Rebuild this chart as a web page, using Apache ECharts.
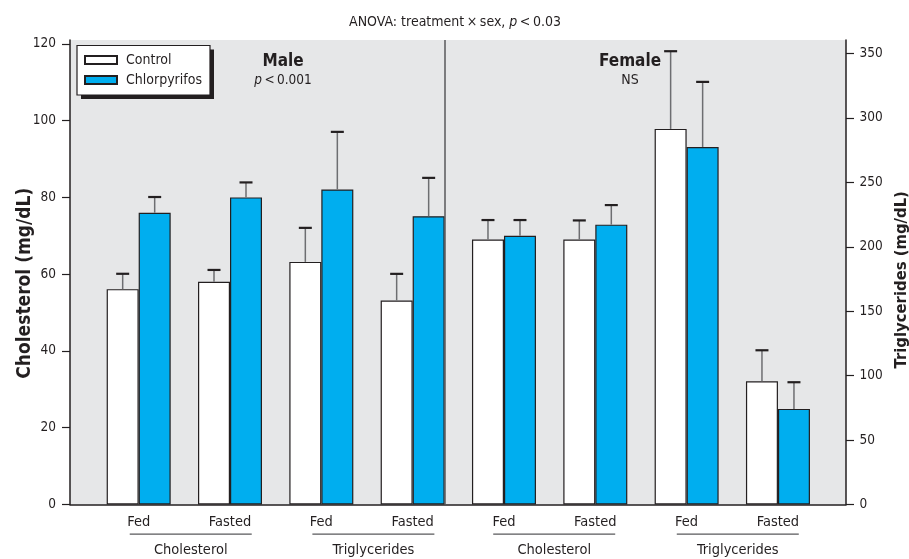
<!DOCTYPE html>
<html><head><meta charset="utf-8">
<script src="https://cdn.jsdelivr.net/npm/echarts@6/dist/echarts.min.js"></script>
<style>html,body{margin:0;padding:0;background:#fff}#c{width:909px;height:559px}</style>
</head><body><div id="c"></div>
<script>
// ---------- data ----------
const positions = [1, 2, 3, 4, 5, 6, 7, 8];
const conditionLabels = ['Fed', 'Fasted', 'Fed', 'Fasted', 'Fed', 'Fasted', 'Fed', 'Fasted'];
const measures = ['Cholesterol', 'Cholesterol', 'Triglycerides', 'Triglycerides',
                  'Cholesterol', 'Cholesterol', 'Triglycerides', 'Triglycerides'];
const sexes = ['Male', 'Male', 'Male', 'Male', 'Female', 'Female', 'Female', 'Female'];
const controlMean = [56.1, 58.0, 188.3, 158.3, 69.0, 69.0, 291.5, 95.7];
const controlSE   = [4.0, 3.1, 26.4, 20.7, 5.1, 5.0, 60.3, 24.0];
const chlorMean   = [76.0, 80.0, 244.5, 223.7, 70.0, 72.9, 277.5, 74.2];
const chlorSE     = [4.1, 3.9, 44.7, 29.8, 4.1, 5.1, 50.5, 20.7];
const cholTicks = [0, 20, 40, 60, 80, 100, 120];
const triTicks = [0, 50, 100, 150, 200, 250, 300, 350];
const groupLabels = ['Cholesterol', 'Triglycerides', 'Cholesterol', 'Triglycerides'];
const groupPositions = [1.57, 3.57, 5.55, 7.56];
const treatments = ['Control', 'Chlorpyrifos'];

// ---------- layout / style ----------
const FONT = "'DejaVu Sans Condensed', 'Liberation Sans Narrow', sans-serif";
const INK = '#231f20';
const X_MIN = 0.248, X_MAX = 8.745;
const Y_LEFT_MAX = 121, Y_RIGHT_MAX = 360.5;
const DIVIDER_X = 4.53;
const BAR_W = 32;
const THIN = '\u2009';

const chart = echarts.init(document.getElementById('c'), null, {renderer: 'canvas'});

function barData(mean, m) {
  return positions.map((p, i) => measures[i] === m ? [p, mean[i]] : null).filter(Boolean);
}
function errData(mean, se, m) {
  return positions.map((p, i) => measures[i] === m ? [p, mean[i], mean[i] + se[i]] : null).filter(Boolean);
}

const fills = {Control: '#ffffff', Chlorpyrifos: '#00aeef'};
const means = {Control: controlMean, Chlorpyrifos: chlorMean};
const ses = {Control: controlSE, Chlorpyrifos: chlorSE};
const offsets = {Control: -BAR_W / 2, Chlorpyrifos: BAR_W / 2};

const series = [];
[['Cholesterol', 0], ['Triglycerides', 1]].forEach(([m, ai]) => {
  treatments.forEach(t => {
    const s = {
      type: 'bar', name: t, xAxisIndex: ai, yAxisIndex: ai,
      barWidth: BAR_W, barGap: '0%',
      itemStyle: {color: fills[t], borderColor: INK, borderWidth: 1.2},
      emphasis: {disabled: true}, z: 3,
      data: barData(means[t], m)
    };
    if (m === 'Cholesterol' && t === 'Control') {
      s.markLine = {
        symbol: 'none', silent: true, animation: false,
        label: {show: false},
        lineStyle: {color: '#58595b', width: 1.5, type: 'solid'},
        data: [{xAxis: DIVIDER_X}]
      };
    }
    series.push(s);
  });
  treatments.forEach(t => {
    const off = offsets[t];
    series.push({
      type: 'custom', name: t + ' SE ' + m, xAxisIndex: ai, yAxisIndex: ai, z: 4,
      encode: {x: 0, y: [1, 2]},
      data: errData(means[t], ses[t], m),
      renderItem: function (params, api) {
        const p0 = api.coord([api.value(0), api.value(1)]);
        const p1 = api.coord([api.value(0), api.value(2)]);
        const x = p0[0] + off;
        return {type: 'group', children: [
          {type: 'line', shape: {x1: x, y1: p0[1], x2: x, y2: p1[1]},
           style: {stroke: '#6d6e71', lineWidth: 1.5}},
          {type: 'line', shape: {x1: x - 6.5, y1: p1[1], x2: x + 6.5, y2: p1[1]},
           style: {stroke: INK, lineWidth: 2.2}}
        ]};
      }
    });
  });
});

const baseX = {type: 'value', min: X_MIN, max: X_MAX, splitLine: {show: false}};
const option = {
  animation: false,
  textStyle: {fontFamily: FONT, color: INK},
  grid: {left: 70, right: 63, top: 40, bottom: 54.5, show: true,
         outerBoundsMode: 'none', containLabel: false,
         backgroundColor: '#e6e7e8', borderWidth: 0},
  legend: {
    data: treatments, orient: 'vertical', left: 84, top: 52, padding: 0,
    itemWidth: 32, itemHeight: 8, itemGap: 4, icon: 'rect', z: 12,
    selectedMode: false,
    textStyle: {fontFamily: FONT, fontSize: 14, color: INK, lineHeight: 16, padding: [0, 0, 0, 4]}
  },
  xAxis: [
    Object.assign({}, baseX, {
      position: 'bottom',
      axisLine: {show: true, onZero: false, lineStyle: {color: INK, width: 1.5}},
      axisTick: {show: false},
      axisLabel: {customValues: positions, margin: 10, fontSize: 14.5, color: INK, fontFamily: FONT,
                  formatter: v => conditionLabels[positions.indexOf(v)]}
    }),
    Object.assign({}, baseX, {show: false}),
    Object.assign({}, baseX, {
      position: 'bottom',
      axisLine: {show: false}, axisTick: {show: false},
      axisLabel: {customValues: groupPositions, margin: 29, color: INK, fontFamily: FONT,
        formatter: v => '{u| }\n{t|' + groupLabels[groupPositions.indexOf(v)] + '}',
        rich: {
          u: {width: 122, height: 1.2, lineHeight: 1.2, fontSize: 1, backgroundColor: '#58595b'},
          t: {fontSize: 14.5, lineHeight: 18, padding: [14, 0, 0, 0], fontFamily: FONT, color: INK}
        }}
    })
  ],
  yAxis: [
    {type: 'value', min: 0, max: Y_LEFT_MAX, position: 'left',
     splitLine: {show: false},
     axisLine: {show: true, lineStyle: {color: INK, width: 1.5}},
     axisTick: {show: true, length: 8, customValues: cholTicks, lineStyle: {color: INK, width: 1.2}},
     axisLabel: {customValues: cholTicks, margin: 14, fontSize: 13.5, color: INK, fontFamily: FONT},
     name: 'Cholesterol (mg/dL)', nameLocation: 'middle', nameGap: 35, nameMoveOverlap: false,
     nameTextStyle: {fontFamily: FONT, fontSize: 19, fontWeight: 'bold', color: INK, padding: [0, 22, 0, 0]}},
    {type: 'value', min: 0, max: Y_RIGHT_MAX, position: 'right',
     splitLine: {show: false},
     axisLine: {show: true, lineStyle: {color: INK, width: 1.5}},
     axisTick: {show: true, length: 8, customValues: triTicks, lineStyle: {color: INK, width: 1.2}},
     axisLabel: {customValues: triTicks, margin: 13.5, fontSize: 13.5, color: INK, fontFamily: FONT},
     name: 'Triglycerides (mg/dL)', nameLocation: 'middle', nameGap: 38,
     nameTextStyle: {fontFamily: FONT, fontSize: 16.5, fontWeight: 'bold', color: INK, padding: [0, 15, 0, 0]}}
  ],
  graphic: [
    {type: 'rect', z: 8, silent: true, shape: {x: 81, y: 49.5, width: 133, height: 49.5},
     style: {fill: INK}},
    {type: 'rect', z: 9, silent: true, shape: {x: 77, y: 45.5, width: 133, height: 49.5},
     style: {fill: '#ffffff', stroke: INK, lineWidth: 1.2}},
    {type: 'text', z: 10, silent: true, x: 455, y: 22,
     style: {text: 'ANOVA: treatment' + THIN + '\u00d7' + THIN + 'sex, {i|p}' + THIN + '<' + THIN + '0.03',
             align: 'center', verticalAlign: 'middle',
             font: '14px ' + FONT, fill: INK,
             rich: {i: {fontStyle: 'italic', fontSize: 14, fontFamily: FONT, fill: INK}}}},
    {type: 'text', z: 10, silent: true, x: 283, y: 62,
     style: {text: 'Male', align: 'center', verticalAlign: 'middle',
             font: 'bold 17px ' + FONT, fill: INK}},
    {type: 'text', z: 10, silent: true, x: 283, y: 80,
     style: {text: '{i|p}' + THIN + '<' + THIN + '0.001', align: 'center', verticalAlign: 'middle',
             font: '13.5px ' + FONT, fill: INK,
             rich: {i: {fontStyle: 'italic', fontSize: 13.5, fontFamily: FONT, fill: INK}}}},
    {type: 'text', z: 10, silent: true, x: 630, y: 62,
     style: {text: 'Female', align: 'center', verticalAlign: 'middle',
             font: 'bold 17px ' + FONT, fill: INK}},
    {type: 'text', z: 10, silent: true, x: 630, y: 80,
     style: {text: 'NS', align: 'center', verticalAlign: 'middle',
             font: '14px ' + FONT, fill: INK}}
  ],
  series: series
};
chart.setOption(option);
</script>
</body></html>
